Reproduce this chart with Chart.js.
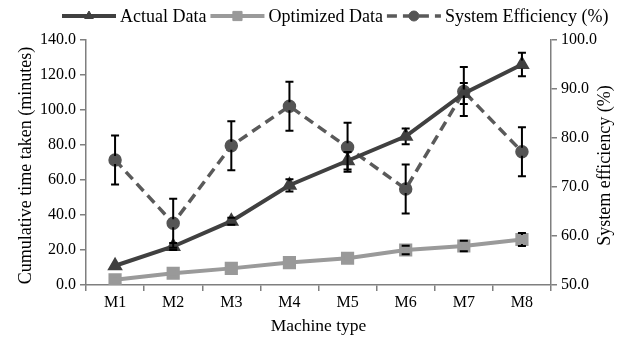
<!DOCTYPE html>
<html>
<head>
<meta charset="utf-8">
<script src="https://cdn.jsdelivr.net/npm/chart.js@4"></script>
<style>
  html, body { margin: 0; padding: 0; background: #fff; }
  #wrap { width: 618px; height: 337px; }
</style>
</head>
<body>
<div id="wrap"><canvas id="myChart" width="618" height="337"></canvas></div>
<script>
const machines = ['M1', 'M2', 'M3', 'M4', 'M5', 'M6', 'M7', 'M8'];
const actualData = [11, 22, 36.5, 57, 71, 85, 109.5, 126];
const actualErr = [1, 2, 2, 3.5, 5, 4.5, 6, 6.7];
const optimizedData = [3, 6.7, 9.5, 12.8, 15.3, 20, 22.3, 26];
const optimizedErr = [1, 1, 1, 1.2, 1.5, 2.4, 3, 3.7];
const efficiencyData = [75.5, 62.6, 78.4, 86.5, 78.1, 69.6, 89.5, 77.2];
const efficiencyErr = [5, 5, 5, 5, 5, 5, 5, 5];

const FONT = '"Liberation Serif", "Times New Roman", serif';
const axisColor = '#7f7f7f';

// error bars on top of the lines; bars too short to leave the marker are skipped
const errorBars = {
  id: 'errorBars',
  afterDatasetsDraw(chart) {
    const c = chart.ctx;
    const errs = [actualErr, optimizedErr, efficiencyErr];
    c.save();
    c.strokeStyle = '#000';
    c.lineWidth = 2;
    chart.data.datasets.forEach((ds, i) => {
      const yScale = chart.scales[ds.yAxisID];
      const half = ds.pointStyle === 'rect' ? ds.pointRadius * 0.71 : ds.pointRadius * 0.8;
      ds.data.forEach((v, j) => {
        const x = chart.scales.x.getPixelForValue(j);
        const mid = yScale.getPixelForValue(v);
        const top = yScale.getPixelForValue(v + errs[i][j]);
        const bot = yScale.getPixelForValue(v - errs[i][j]);
        if (mid - top < 3) return;
        c.beginPath();
        if (mid - top > half) {
          c.moveTo(x, top); c.lineTo(x, mid - half);
          c.moveTo(x, mid + half); c.lineTo(x, bot);
        }
        c.moveTo(x - 4, top); c.lineTo(x + 4, top);
        c.moveTo(x - 4, bot); c.lineTo(x + 4, bot);
        c.stroke();
      });
    });
    c.restore();
  }
};

// legend with line + marker samples, and the two rotated y titles
const extras = {
  id: 'extras',
  afterDraw(chart) {
    const c = chart.ctx;
    const area = chart.chartArea;
    c.save();
    c.font = '18px ' + FONT;
    c.textBaseline = 'middle';
    let x = 62;
    const y = 16;
    chart.data.datasets.forEach(ds => {
      c.strokeStyle = ds.borderColor;
      c.lineWidth = ds.borderWidth;
      c.setLineDash(ds.borderDash || []);
      c.beginPath();
      c.moveTo(x, y); c.lineTo(x + 54, y);
      c.stroke();
      c.setLineDash([]);
      c.lineWidth = 1;
      c.fillStyle = ds.pointBackgroundColor;
      c.strokeStyle = ds.pointBorderColor;
      Chart.helpers.drawPoint(c, {
        pointStyle: ds.pointStyle, radius: ds.pointRadius, borderWidth: 1, rotation: 0
      }, x + 27, y);
      c.fillStyle = '#000';
      c.textAlign = 'left';
      c.fillText(ds.label, x + 58, y + 1);
      x += 58 + c.measureText(ds.label).width + 4;
    });

    const midY = (area.top + area.bottom) / 2 + 3;
    c.textAlign = 'center';
    c.fillStyle = '#000';
    c.save();
    c.translate(26, midY);
    c.rotate(-Math.PI / 2);
    c.fillText('Cumulative time taken (minutes)', 0, 0);
    c.restore();
    c.save();
    c.translate(605, midY);
    c.rotate(-Math.PI / 2);
    c.fillText('System efficiency (%)', 0, 0);
    c.restore();
    c.restore();
  }
};

const ctx = document.getElementById('myChart').getContext('2d');
const myChart = new Chart(ctx, {
  type: 'line',
  data: {
    labels: machines,
    datasets: [
      {
        label: 'Actual Data',
        data: actualData,
        yAxisID: 'y',
        borderColor: '#404040',
        backgroundColor: '#404040',
        pointBackgroundColor: '#404040',
        pointBorderColor: '#404040',
        borderWidth: 4,
        pointStyle: 'triangle',
        pointRadius: 5,
        tension: 0
      },
      {
        label: 'Optimized Data',
        data: optimizedData,
        yAxisID: 'y',
        borderColor: '#9a9a9a',
        backgroundColor: '#9a9a9a',
        pointBackgroundColor: '#999',
        pointBorderColor: '#999',
        borderWidth: 4,
        pointStyle: 'rect',
        pointRadius: 6.5,
        tension: 0
      },
      {
        label: 'System Efficiency (%)',
        data: efficiencyData,
        yAxisID: 'y1',
        borderColor: '#5a5a5a',
        backgroundColor: '#5a5a5a',
        pointBackgroundColor: '#555',
        pointBorderColor: '#555',
        borderWidth: 3.5,
        borderDash: [10, 6],
        pointStyle: 'circle',
        pointRadius: 5,
        tension: 0
      }
    ]
  },
  options: {
    responsive: false,
    animation: false,
    layout: { padding: { top: 40, left: 0, right: 0, bottom: 0 } },
    plugins: {
      legend: { display: false },
      tooltip: { enabled: false }
    },
    scales: {
      x: {
        offset: true,
        grid: { offset: true, drawOnChartArea: false, color: axisColor, tickLength: 6, lineWidth: 1.5 },
        border: { color: axisColor, width: 1.5 },
        ticks: { color: '#000', font: { family: FONT, size: 16 }, padding: 2 },
        title: { display: true, text: 'Machine type', color: '#000', font: { family: FONT, size: 17.5 }, padding: { top: 0, bottom: 0 } },
        afterFit(s) { s.height = 52; }
      },
      y: {
        position: 'left',
        min: 0, max: 140,
        ticks: { stepSize: 20, color: '#000', font: { family: FONT, size: 16 }, padding: 4, callback: v => v.toFixed(1) },
        grid: { drawOnChartArea: false, color: axisColor, tickLength: 6, lineWidth: 1.5 },
        border: { color: axisColor, width: 1.5 },
        afterFit(s) { s.width = 86; }
      },
      y1: {
        position: 'right',
        min: 50, max: 100,
        ticks: { stepSize: 10, color: '#000', font: { family: FONT, size: 16 }, padding: 4, callback: v => v.toFixed(1) },
        grid: { drawOnChartArea: false, color: axisColor, tickLength: 6, lineWidth: 1.5 },
        border: { color: axisColor, width: 1.5 },
        afterFit(s) { s.width = 67; }
      }
    }
  },
  plugins: [errorBars, extras]
});
</script>
</body>
</html>
